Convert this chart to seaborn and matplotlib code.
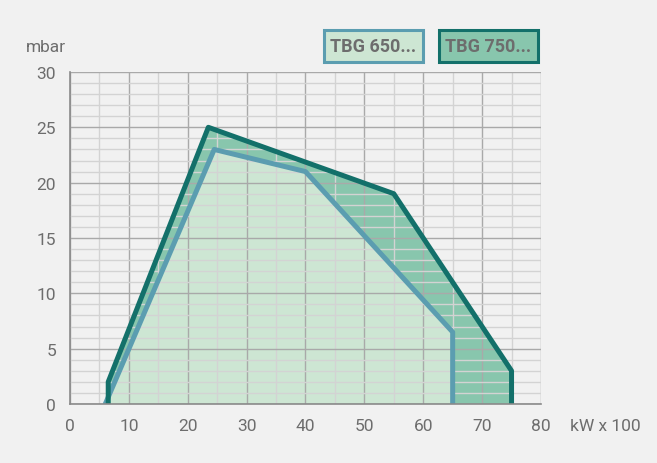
import numpy as np
import pandas as pd
import matplotlib
matplotlib.use("Agg")
import matplotlib.pyplot as plt
import seaborn as sns
from matplotlib.ticker import MultipleLocator

# burner working ranges (kW x 100 vs mbar)
x_650 = [6, 24.5, 40, 65, 65]
y_650 = [0, 23, 21, 6.5, 0]
x_750 = [6.5, 6.5, 23.5, 55, 75, 75]
y_750 = [0, 2, 25, 19, 3, 0]
labels = ["TBG 650...", "TBG 750..."]

bg = "#f1f1f1"
c650_line, c650_fill = "#5b9db0", "#cde6d3"
c750_line, c750_fill = "#13706a", "#88c6ad"
txt = "#6d6d6d"

sns.set_style("white")
plt.rcParams['font.family'] = ['Roboto', 'DejaVu Sans']

fig = plt.figure(figsize=(6.57, 4.64), dpi=100, facecolor=bg)
ax = fig.add_axes([0.1065, 0.1272, 0.7169, 0.7155])
ax.set_facecolor(bg)

df650 = pd.DataFrame({"x": x_650, "y": y_650})
df750 = pd.DataFrame({"x": x_750, "y": y_750})

ax.fill(df750.x, df750.y, color=c750_fill, lw=0, zorder=2)
ax.fill(df650.x, df650.y, color=c650_fill, lw=0, zorder=2)
sns.lineplot(data=df650, x="x", y="y", sort=False, estimator=None, color=c650_line,
             lw=3.6, ax=ax, zorder=4)
sns.lineplot(data=df750, x="x", y="y", sort=False, estimator=None, color=c750_line,
             lw=3.6, ax=ax, zorder=5)

ax.set_xlim(0, 80)
ax.set_ylim(0, 30)
ax.xaxis.set_major_locator(MultipleLocator(10))
ax.xaxis.set_minor_locator(MultipleLocator(5))
ax.yaxis.set_major_locator(MultipleLocator(5))
ax.yaxis.set_minor_locator(MultipleLocator(1))
ax.grid(which="major", color="#a9a9a9", lw=1.0, zorder=3)
ax.grid(which="minor", color="#d3d3d3", lw=1.0, zorder=3)
ax.set_axisbelow(False)
for s in ["top", "right"]:
    ax.spines[s].set_visible(False)
for s in ["left", "bottom"]:
    ax.spines[s].set_color("#8a8a8a")
    ax.spines[s].set_linewidth(1.2)
    ax.spines[s].set_zorder(6)
ax.tick_params(which="major", direction="out", length=6, width=1, color="#8a8a8a",
               labelsize=12.5, labelcolor=txt, pad=4)
ax.tick_params(which="minor", length=0)
ax.set_xlabel("")
ax.set_ylabel("")

fig.text(0.040, 0.898, "mbar", fontsize=12.5, color=txt, va="center", ha="left")
fig.text(0.868, 0.080, "kW x 100", fontsize=12.5, color=txt, va="center", ha="left")

# legend boxes
fig.text(0.5685, 0.8987, labels[0], fontsize=13, fontweight="bold", color=txt,
         ha="center", va="center",
         bbox=dict(boxstyle="square,pad=0.38", fc=c650_fill, ec=c650_line, lw=2.2))
fig.text(0.7435, 0.8987, labels[1], fontsize=13, fontweight="bold", color=txt,
         ha="center", va="center",
         bbox=dict(boxstyle="square,pad=0.38", fc=c750_fill, ec=c750_line, lw=2.2))

fig.savefig("out.png", dpi=100, facecolor=bg)
